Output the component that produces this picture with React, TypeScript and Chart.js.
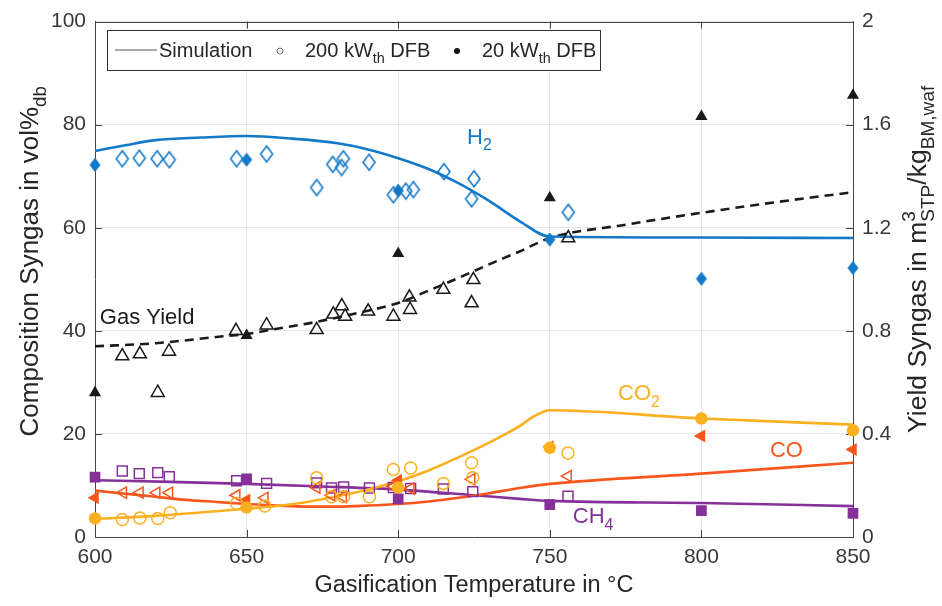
import React, { useEffect, useRef } from "react";
import { Chart, registerables } from "chart.js";
Chart.register(...registerables);

const FONT = '"Liberation Sans", Arial, Helvetica, sans-serif';

// ---------- axes ----------
const xMin = 600;
const xMax = 850;
const xStep = 50;
const leftMax = 100;
const leftStep = 20;
const rightMax = 2;
const rightStep = 0.4;

// ---------- simulation curves ----------
const simH2T = [600, 610, 620, 635, 650, 665, 680, 690, 700, 710, 720, 730, 740, 750, 800, 850];
const simH2 = [74.9, 76.0, 77.0, 77.5, 77.8, 77.3, 76.4, 75.2, 73.5, 71.4, 68.6, 65.2, 61.3, 58.3, 58.1, 58.0];

const simCO2T = [600, 620, 640, 650, 660, 670, 680, 690, 700, 710, 720, 730, 740, 745, 750, 800, 850];
const simCO2 = [3.5, 4.1, 5.0, 5.5, 6.0, 6.8, 7.9, 9.2, 10.8, 12.9, 15.5, 18.3, 21.5, 23.5, 24.6, 23.0, 21.8];

const simCOT = [600, 610, 620, 630, 640, 650, 660, 670, 680, 690, 700, 710, 720, 730, 740, 750, 800, 850];
const simCO = [9.0, 8.4, 7.8, 7.2, 6.8, 6.4, 6.1, 5.9, 5.9, 6.1, 6.4, 6.9, 7.6, 8.5, 9.5, 10.3, 12.3, 14.4];

const simCH4T = [600, 625, 650, 675, 700, 725, 740, 750, 800, 850];
const simCH4 = [11.0, 10.7, 10.3, 9.8, 9.2, 8.1, 7.4, 7.0, 6.6, 6.0];

// gas yield (right axis, m3/kg)
const simYieldT = [600, 620, 640, 650, 660, 670, 680, 690, 700, 710, 720, 730, 740, 750, 775, 800, 825, 850];
const simYield = [0.74, 0.752, 0.776, 0.788, 0.808, 0.828, 0.852, 0.878, 0.908, 0.956, 1.006, 1.058, 1.108, 1.16, 1.212, 1.258, 1.3, 1.338];

// ---------- 200 kWth DFB (open markers) ----------
const h2BigT = [609, 614.6, 620.5, 624.5, 646.7, 656.6, 673.1, 678.4, 681.9, 681.3, 690.4, 698.4, 702.5, 705, 715.1, 725, 724.2, 756.1];
const h2Big = [73.4, 73.5, 73.4, 73.2, 73.4, 74.3, 67.8, 72.3, 73.4, 71.7, 72.7, 66.4, 67.1, 67.4, 70.9, 69.5, 65.6, 63.0];

const yieldBigT = [609, 614.8, 620.7, 624.4, 646.5, 656.6, 673.1, 678.6, 681.4, 682.5, 690.1, 698.4, 703.7, 703.9, 714.9, 724.8, 724.2, 756.1];
const yieldBig = [0.702, 0.71, 0.56, 0.72, 0.8, 0.822, 0.804, 0.864, 0.896, 0.856, 0.876, 0.856, 0.93, 0.882, 0.96, 0.998, 0.908, 1.16];

const co2BigT = [609, 614.8, 620.7, 624.8, 646.7, 656, 673.1, 678, 682, 690.5, 698.4, 704.1, 714.9, 724.2, 724.6, 756];
const co2Big = [3.4, 3.7, 3.6, 4.7, 6.5, 6.0, 11.5, 7.8, 7.8, 7.8, 13.1, 13.4, 10.4, 14.4, 11.5, 16.3];

const coBigT = [609.3, 614.8, 620.3, 624.5, 646.7, 656, 673.1, 678, 681.8, 698.4, 704.1, 724.2, 756];
const coBig = [8.6, 8.6, 8.6, 8.6, 8.1, 7.6, 9.6, 8.1, 7.8, 9.8, 9.4, 11.2, 11.8];

const ch4BigT = [609, 614.6, 620.7, 624.5, 646.7, 656.6, 673.1, 678, 682, 690.5, 698.4, 704.1, 714.9, 724.6, 756];
const ch4Big = [12.8, 12.3, 12.5, 11.7, 10.9, 10.4, 10.5, 9.5, 9.7, 9.5, 9.6, 9.4, 9.3, 8.8, 7.9];

// ---------- 20 kWth DFB (filled markers) ----------
const smallT = [600, 650, 700, 750, 800, 850];
const h2Small = [72.2, 73.2, 67.2, 57.7, 50.1, 52.2];
const yieldSmall = [0.56, 0.782, 1.1, 1.316, 1.632, 1.714];
const co2Small = [3.6, 5.7, 9.6, 17.3, 23.0, 20.7];
const coSmall = [7.6, 7.2, 11.0, 17.5, 19.6, 17.0];
const ch4Small = [11.6, 11.3, 7.4, 6.3, 5.1, 4.6];

// ---------- colours ----------
const BLUE = "#1379c9";
const ORANGE = "#fbb020";
const RED = "#f8561d";
const PURPLE = "#86309a";
const BLACK = "#1a1a1a";

type Part = { t: string; s?: "sub" | "sup" };

// in-plot labels (data coordinates of left/baseline)
const labelTexts: Part[][] = [
  [{ t: "H" }, { t: "2", s: "sub" }],
  [{ t: "Gas Yield" }],
  [{ t: "CO" }, { t: "2", s: "sub" }],
  [{ t: "CO" }],
  [{ t: "CH" }, { t: "4", s: "sub" }],
];
const labelX = [722.7, 601.6, 772.5, 822.6, 757.6];
const labelY = [76.3, 41.4, 26.5, 15.5, 2.7];
const labelColors = [BLUE, BLACK, ORANGE, RED, PURPLE];

const xTitle: Part[] = [{ t: "Gasification Temperature in °C" }];
const yTitle: Part[] = [{ t: "Composition Syngas in vol%" }, { t: "db", s: "sub" }];
const y1Title: Part[] = [
  { t: "Yield Syngas in m" },
  { t: "3", s: "sup" },
  { t: "STP", s: "sub" },
  { t: "/kg" },
  { t: "BM,waf", s: "sub" },
];

function richWidth(ctx: CanvasRenderingContext2D, parts: Part[], size: number) {
  let w = 0;
  let lastSup = 0;
  for (const p of parts) {
    const fs = p.s ? size * 0.72 : size;
    ctx.font = `${fs}px ${FONT}`;
    const mw = ctx.measureText(p.t).width;
    if (p.s === "sup") {
      lastSup = mw;
      w += mw;
    } else if (p.s === "sub" && lastSup) {
      w += Math.max(0, mw - lastSup);
      lastSup = 0;
    } else {
      w += mw;
      lastSup = 0;
    }
  }
  return w;
}

function drawRich(
  ctx: CanvasRenderingContext2D,
  parts: Part[],
  x: number,
  y: number,
  size: number,
  color: string,
  align: "left" | "center"
) {
  const w = richWidth(ctx, parts, size);
  let cx = align === "center" ? x - w / 2 : x;
  ctx.fillStyle = color;
  ctx.textAlign = "left";
  ctx.textBaseline = "alphabetic";
  let supStart = -1;
  let supW = 0;
  for (const p of parts) {
    const fs = p.s ? size * 0.72 : size;
    ctx.font = `${fs}px ${FONT}`;
    const mw = ctx.measureText(p.t).width;
    if (p.s === "sup") {
      ctx.fillText(p.t, cx, y - size * 0.42);
      supStart = cx;
      supW = mw;
      cx += mw;
    } else if (p.s === "sub" && supStart >= 0) {
      ctx.fillText(p.t, supStart, y + size * 0.3);
      cx = supStart + Math.max(mw, supW);
      supStart = -1;
    } else {
      ctx.fillText(p.t, cx, y + (p.s === "sub" ? size * 0.3 : 0));
      cx += mw;
      supStart = -1;
    }
  }
}

function makeDiamond(w: number, h: number, fill: string | null, stroke: string | null, lw: number) {
  const c = document.createElement("canvas");
  const pad = Math.ceil(lw) + 1;
  c.width = w + pad * 2;
  c.height = h + pad * 2;
  const g = c.getContext("2d")!;
  const cx = c.width / 2;
  const cy = c.height / 2;
  g.beginPath();
  g.moveTo(cx, cy - h / 2);
  g.lineTo(cx + w / 2, cy);
  g.lineTo(cx, cy + h / 2);
  g.lineTo(cx - w / 2, cy);
  g.closePath();
  if (fill) {
    g.fillStyle = fill;
    g.fill();
  }
  if (stroke) {
    g.strokeStyle = stroke;
    g.lineWidth = lw;
    g.stroke();
  }
  return c;
}

const pts = (xs: number[], ys: number[]) => xs.map((x, i) => ({ x, y: ys[i] }));

export default function App() {
  const ref = useRef<HTMLCanvasElement>(null);

  useEffect(() => {
    const canvas = ref.current!;
    const openDiamond = makeDiamond(12, 16, null, BLUE, 1.6);
    const fullDiamond = makeDiamond(10, 13, BLUE, BLUE, 1);

    const simLine = (xs: number[], ys: number[], color: string, axis = "y", dash: number[] = []) => ({
      data: pts(xs, ys),
      showLine: true,
      borderColor: color,
      backgroundColor: color,
      borderWidth: 2.6,
      borderDash: dash,
      pointRadius: 0,
      cubicInterpolationMode: "monotone",
      yAxisID: axis,
      order: 2,
    });

    const marks = (
      xs: number[],
      ys: number[],
      style: any,
      radius: number,
      stroke: string,
      fill: string,
      axis = "y",
      rotation = 0,
      bw = 1.5
    ) => ({
      data: pts(xs, ys),
      showLine: false,
      pointStyle: style,
      pointRadius: radius,
      pointRotation: rotation,
      pointBorderColor: stroke,
      pointBackgroundColor: fill,
      pointBorderWidth: bw,
      yAxisID: axis,
      clip: false,
      order: 1,
    });

    const NONE = "rgba(0,0,0,0)";

    const frame = {
      id: "frame",
      beforeDatasetsDraw(chart: any) {
        const { ctx, chartArea, scales } = chart;
        const { left, right, top, bottom } = chartArea;
        ctx.save();
        ctx.strokeStyle = "#444";
        ctx.lineWidth = 1;
        ctx.beginPath();
        ctx.moveTo(left, Math.round(top) + 0.5);
        ctx.lineTo(right, Math.round(top) + 0.5);
        for (let v = xMin + xStep; v < xMax; v += xStep) {
          const px = Math.round(scales.x.getPixelForValue(v)) + 0.5;
          ctx.moveTo(px, bottom);
          ctx.lineTo(px, bottom - 7);
          ctx.moveTo(px, top);
          ctx.lineTo(px, top + 7);
        }
        for (let v = leftStep; v < leftMax; v += leftStep) {
          const py = Math.round(scales.y.getPixelForValue(v)) + 0.5;
          ctx.moveTo(left, py);
          ctx.lineTo(left + 7, py);
        }
        for (let i = 1; i * rightStep < rightMax - 1e-6; i++) {
          const py = Math.round(scales.y1.getPixelForValue(i * rightStep)) + 0.5;
          ctx.moveTo(right, py);
          ctx.lineTo(right - 7, py);
        }
        ctx.stroke();
        ctx.restore();
      },
      afterDatasetsDraw(chart: any) {
        const { ctx, scales } = chart;
        ctx.save();
        labelTexts.forEach((parts, i) => {
          const px = scales.x.getPixelForValue(labelX[i]);
          const py = scales.y.getPixelForValue(labelY[i]);
          drawRich(ctx, parts, px, py, 22, labelColors[i], "left");
        });
        ctx.restore();
      },
      afterDraw(chart: any) {
        const { ctx, chartArea } = chart;
        const { left, right, top, bottom } = chartArea;
        ctx.save();
        // axis titles
        drawRich(ctx, xTitle, (left + right) / 2, 592, 23.5, "#262626", "center");
        ctx.save();
        ctx.translate(38, (top + bottom) / 2 - 18);
        ctx.rotate(-Math.PI / 2);
        drawRich(ctx, yTitle, 0, 0, 26, "#262626", "center");
        ctx.restore();
        ctx.save();
        ctx.translate(926, (top + bottom) / 2 - 20);
        ctx.rotate(-Math.PI / 2);
        drawRich(ctx, y1Title, 0, 0, 26.5, "#262626", "center");
        ctx.restore();

        // legend
        const lx0 = 107, ly0 = 30, lx1 = 600, ly1 = 70;
        const cy = (ly0 + ly1) / 2;
        ctx.fillStyle = "#fff";
        ctx.fillRect(lx0, ly0, lx1 - lx0, ly1 - ly0);
        ctx.strokeStyle = "#333";
        ctx.lineWidth = 1;
        ctx.strokeRect(lx0 + 0.5, ly0 + 0.5, lx1 - lx0, ly1 - ly0);
        ctx.strokeStyle = "#555";
        ctx.lineWidth = 1.2;
        ctx.beginPath();
        ctx.moveTo(115, cy);
        ctx.lineTo(157, cy);
        ctx.stroke();
        drawRich(ctx, [{ t: "Simulation" }], 159, cy + 7, 20, "#262626", "left");
        ctx.beginPath();
        ctx.arc(280, cy + 1, 3, 0, Math.PI * 2);
        ctx.strokeStyle = "#777";
        ctx.lineWidth = 1;
        ctx.stroke();
        drawRich(ctx, [{ t: "200 kW" }, { t: "th", s: "sub" }, { t: " DFB" }], 305, cy + 7, 20, "#262626", "left");
        ctx.beginPath();
        ctx.arc(457, cy + 1, 3, 0, Math.PI * 2);
        ctx.fillStyle = "#111";
        ctx.fill();
        drawRich(ctx, [{ t: "20 kW" }, { t: "th", s: "sub" }, { t: " DFB" }], 482, cy + 7, 20, "#262626", "left");
        ctx.restore();
      },
    };

    const tickFont = { size: 21, family: FONT };

    const chart = new Chart(canvas, {
      type: "scatter",
      data: {
        datasets: [
          simLine(simH2T, simH2, BLUE) as any,
          simLine(simCO2T, simCO2, ORANGE),
          simLine(simCOT, simCO, RED),
          simLine(simCH4T, simCH4, PURPLE),
          simLine(simYieldT, simYield, BLACK, "y1", [9, 6]),
          marks(h2BigT, h2Big, openDiamond, 7, BLUE, NONE),
          marks(smallT, h2Small, fullDiamond, 6, BLUE, BLUE),
          marks(yieldBigT, yieldBig, "triangle", 7.5, BLACK, NONE, "y1"),
          marks(smallT, yieldSmall, "triangle", 5.5, BLACK, BLACK, "y1"),
          marks(co2BigT, co2Big, "circle", 6, ORANGE, NONE),
          marks(smallT, co2Small, "circle", 5.5, ORANGE, ORANGE),
          marks(coBigT, coBig, "triangle", 6.5, RED, NONE, "y", -90),
          marks(smallT, coSmall, "triangle", 6, RED, RED, "y", -90),
          marks(ch4BigT, ch4Big, "rect", 7, PURPLE, NONE),
          marks(smallT, ch4Small, "rect", 6.5, PURPLE, PURPLE),
        ],
      },
      options: {
        responsive: false,
        animation: false,
        devicePixelRatio: 1,
        events: [],
        layout: { padding: { top: 20, left: 0, right: 0, bottom: 0 } },
        plugins: { legend: { display: false }, tooltip: { enabled: false }, title: { display: false } },
        scales: {
          x: {
            type: "linear",
            min: xMin,
            max: xMax,
            ticks: { stepSize: xStep, font: tickFont, color: "#383838", padding: 8, maxRotation: 0, autoSkip: false },
            grid: { color: "#e6e6e6", drawTicks: false, lineWidth: 1 },
            border: { display: true, color: "#444", width: 1 },
            afterFit: (s: any) => {
              s.height = 69;
            },
          },
          y: {
            position: "left",
            min: 0,
            max: leftMax,
            ticks: { stepSize: leftStep, font: tickFont, color: "#383838", padding: 9 },
            grid: { color: "#e6e6e6", drawTicks: false, lineWidth: 1 },
            border: { display: true, color: "#444", width: 1 },
            afterFit: (s: any) => {
              s.width = 95;
            },
          },
          y1: {
            position: "right",
            min: 0,
            max: rightMax,
            ticks: {
              stepSize: rightStep,
              font: tickFont,
              color: "#383838",
              padding: 9,
              callback: (v: any) => String(Math.round(Number(v) * 10) / 10),
            },
            grid: { drawOnChartArea: false, drawTicks: false },
            border: { display: true, color: "#444", width: 1 },
            afterFit: (s: any) => {
              s.width = 89;
            },
          },
        },
      },
      plugins: [frame],
    } as any);

    return () => chart.destroy();
  }, []);

  return (
    <div style={{ position: "absolute", left: 0, top: 0, width: 942, height: 606, background: "#fff" }}>
      <canvas ref={ref} width={942} height={606} style={{ display: "block" }} />
    </div>
  );
}
